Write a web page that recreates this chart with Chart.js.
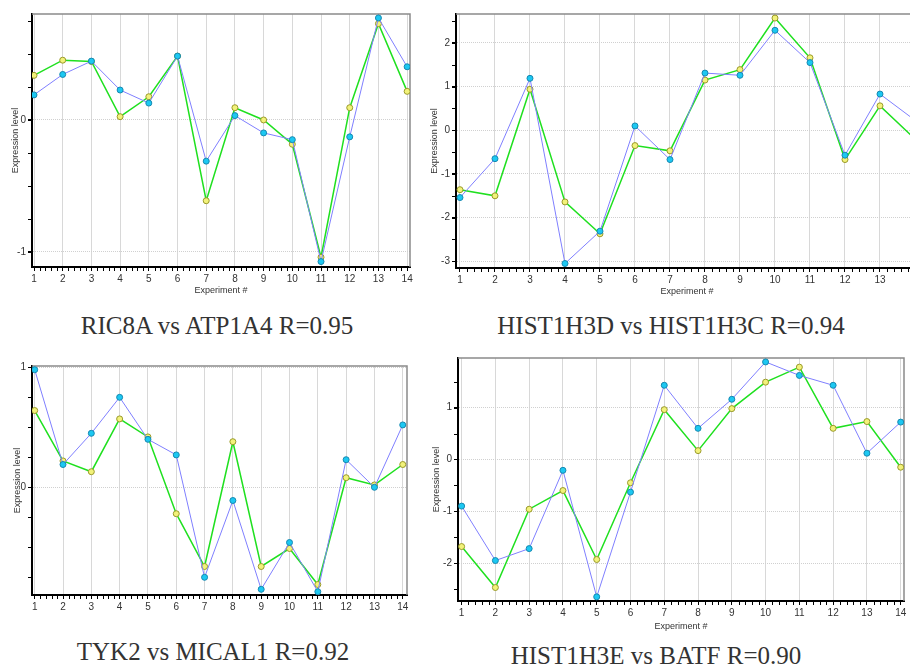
<!DOCTYPE html>
<html>
<head>
<meta charset="utf-8">
<script src="https://cdn.jsdelivr.net/npm/chart.js@4/dist/chart.umd.min.js"></script>
<style>
  html, body { margin: 0; padding: 0; overflow: hidden; background: #fff; }
  body { width: 910px; height: 668px; position: relative; }
  .wrap { position: absolute; overflow: hidden; }
  .caption {
    position: absolute; transform: translate(-50%, -50%); white-space: nowrap;
    font-family: "Liberation Serif", "DejaVu Serif", serif; font-size: 25px; color: #333;
  }
</style>
</head>
<body>
<div class="wrap" style="left:0;top:0;width:420px;height:300px"><canvas id="c1" width="420" height="300"></canvas></div>
<div class="wrap" style="left:420px;top:0;width:490px;height:300px"><canvas id="c2" width="510" height="300"></canvas></div>
<div class="wrap" style="left:0;top:350px;width:420px;height:269px"><canvas id="c3" width="420" height="290"></canvas></div>
<div class="wrap" style="left:420px;top:350px;width:490px;height:290px"><canvas id="c4" width="490" height="290"></canvas></div>

<div class="caption" style="left:217px;top:326px">RIC8A vs ATP1A4 R=0.95</div>
<div class="caption" style="left:671px;top:326px">HIST1H3D vs HIST1H3C R=0.94</div>
<div class="caption" style="left:213px;top:652px">TYK2 vs MICAL1 R=0.92</div>
<div class="caption" style="left:656px;top:656px">HIST1H3E vs BATF R=0.90</div>

<script>
// --- Dados ---
const experiments = [1, 2, 3, 4, 5, 6, 7, 8, 9, 10, 11, 12, 13, 14];

const ric8a  = [0.19, 0.345, 0.446, 0.227, 0.128, 0.484, -0.312, 0.033, -0.098, -0.149, -1.073, -0.128, 0.773, 0.403];
const atp1a4 = [0.338, 0.453, 0.443, 0.025, 0.176, 0.484, -0.612, 0.093, 0.0, -0.184, -1.04, 0.093, 0.73, 0.217];
const yTicks1 = [-1, 0];

const hist1h3d = [-1.54, -0.65, 1.19, -3.05, -2.31, 0.10, -0.67, 1.31, 1.26, 2.29, 1.55, -0.57, 0.83, 0.23];
const hist1h3c = [-1.36, -1.50, 0.94, -1.64, -2.37, -0.35, -0.47, 1.15, 1.39, 2.57, 1.66, -0.67, 0.56, -0.20];
const yTicks2 = [-3, -2, -1, 0, 1, 2];

const tyk2   = [0.98, 0.19, 0.45, 0.75, 0.40, 0.27, -0.75, -0.11, -0.85, -0.46, -0.87, 0.23, 0.0, 0.52];
const mical1 = [0.64, 0.22, 0.13, 0.57, 0.42, -0.22, -0.66, 0.38, -0.66, -0.51, -0.81, 0.08, 0.02, 0.19];
const yTicks3 = [0, 1];

const hist1h3e = [-0.90, -1.95, -1.72, -0.21, -2.65, -0.63, 1.43, 0.60, 1.16, 1.88, 1.62, 1.43, 0.12, 0.72];
const batf     = [-1.68, -2.47, -0.96, -0.60, -1.93, -0.45, 0.96, 0.17, 0.98, 1.49, 1.78, 0.60, 0.73, -0.15];
const yTicks4 = [-2, -1, 0, 1];

// --- Estilo ---
const FONT = 'Liberation Sans, Arial, sans-serif';
const toPoints = vals => experiments.map((e, i) => ({ x: e, y: vals[i] }));

// Borda cinza (topo/direita) e marcas menores nos eixos
const framePlugin = {
    id: 'frame',
    beforeDatasetsDraw(chart) {
        const { ctx, chartArea: a } = chart;
        ctx.save();
        ctx.strokeStyle = '#8a8a8a';
        ctx.lineWidth = 1.5;
        ctx.beginPath();
        ctx.moveTo(a.left, a.top);
        ctx.lineTo(a.right, a.top);
        ctx.lineTo(a.right, a.bottom);
        ctx.stroke();
        ctx.restore();
    },
    afterDraw(chart, args, opts) {
        const { ctx, chartArea: a, scales: { x, y } } = chart;
        ctx.save();
        ctx.strokeStyle = '#000';
        ctx.lineWidth = 1;
        ctx.beginPath();
        for (let i = Math.floor(x.min); i <= x.max; i++) {
            for (let k = 1; k < 5; k++) {
                const v = i + k / 5;
                if (v < x.min || v > x.max) continue;
                const px = Math.round(x.getPixelForValue(v)) + 0.5;
                ctx.moveTo(px, a.bottom);
                ctx.lineTo(px, a.bottom + 4);
            }
        }
        const step = opts.yStep;
        for (let v = Math.ceil(y.min / step) * step; v <= y.max; v += step) {
            const py = Math.round(y.getPixelForValue(v)) + 0.5;
            ctx.moveTo(a.left - 4, py);
            ctx.lineTo(a.left, py);
        }
        ctx.stroke();
        ctx.restore();
    }
};

function createPanel(cfg) {
    const ctx = document.getElementById(cfg.canvasId).getContext('2d');
    return new Chart(ctx, {
        type: 'line',
        data: {
            datasets: [
                {
                    data: toPoints(cfg.blue),
                    borderColor: '#7f7fff',
                    borderWidth: 1,
                    pointBackgroundColor: '#1cc8f2',
                    pointBorderColor: '#1688b0',
                    pointBorderWidth: 1,
                    pointRadius: 3,
                    tension: 0
                },
                {
                    data: toPoints(cfg.green),
                    borderColor: '#1fe01f',
                    borderWidth: 1.5,
                    pointBackgroundColor: '#f2f27a',
                    pointBorderColor: '#9a9a2a',
                    pointBorderWidth: 1,
                    pointRadius: 3,
                    tension: 0
                }
            ]
        },
        options: {
            responsive: false,
            animation: false,
            devicePixelRatio: 1,
            layout: {
                autoPadding: false,
                padding: { top: cfg.padTop, right: cfg.padRight, left: 0, bottom: 0 }
            },
            plugins: {
                legend: { display: false },
                tooltip: { enabled: false },
                frame: { yStep: cfg.yStep }
            },
            scales: {
                x: {
                    type: 'linear',
                    min: cfg.xMin,
                    max: cfg.xMax,
                    afterBuildTicks: s => { s.ticks = experiments.map(v => ({ value: v })); },
                    afterFit: s => { s.height = cfg.xAxisH; },
                    ticks: {
                        autoSkip: false, maxRotation: 0, padding: 2, color: '#333',
                        font: { family: FONT, size: 10 },
                        callback: v => String(v)
                    },
                    grid: { color: '#d8d8d8', lineWidth: 1, tickLength: 4, tickColor: '#000' },
                    border: { color: '#000', width: 2 },
                    title: {
                        display: true, text: 'Experiment #', color: '#333',
                        font: { family: FONT, size: 9 },
                        padding: { top: 0, bottom: cfg.xTitlePad }
                    }
                },
                y: {
                    min: cfg.yMin,
                    max: cfg.yMax,
                    afterBuildTicks: s => { s.ticks = cfg.yTicks.map(v => ({ value: v })); },
                    afterFit: s => { s.width = cfg.yAxisW; },
                    ticks: {
                        padding: 2, color: '#333',
                        font: { family: FONT, size: 10 },
                        callback: v => String(v)
                    },
                    grid: { color: '#d0d0d0', lineWidth: 1, tickLength: 4, tickColor: '#000' },
                    border: { color: '#000', width: 2, dash: [1, 1] },
                    title: {
                        display: true, text: 'Expression level', color: '#333',
                        font: { family: FONT, size: 9 },
                        padding: { top: cfg.yTitlePad, bottom: 0 }
                    }
                }
            }
        },
        plugins: [framePlugin]
    });
}

createPanel({
    canvasId: 'c1', blue: ric8a, green: atp1a4, yTicks: yTicks1, yStep: 0.25,
    xMin: 0.93, xMax: 14.10, yMin: -1.114, yMax: 0.803,
    padTop: 14, padRight: 10, yAxisW: 32, xAxisH: 33, xTitlePad: 4, yTitlePad: 10
});
createPanel({
    canvasId: 'c2', blue: hist1h3d, green: hist1h3c, yTicks: yTicks2, yStep: 0.5,
    xMin: 0.886, xMax: 14.086, yMin: -3.153, yMax: 2.663,
    padTop: 14, padRight: 12, yAxisW: 36, xAxisH: 32, xTitlePad: 3, yTitlePad: 9
});
createPanel({
    canvasId: 'c3', blue: tyk2, green: mical1, yTicks: yTicks3, yStep: 0.25,
    xMin: 0.905, xMax: 14.15, yMin: -0.8975, yMax: 1.011,
    padTop: 16, padRight: 13, yAxisW: 32, xAxisH: 45, xTitlePad: 11, yTitlePad: 12
});
createPanel({
    canvasId: 'c4', blue: hist1h3e, green: batf, yTicks: yTicks4, yStep: 0.5,
    xMin: 0.893, xMax: 14.098, yMin: -2.73, yMax: 1.956,
    padTop: 7, padRight: 6, yAxisW: 38, xAxisH: 39, xTitlePad: 8, yTitlePad: 11
});
</script>
</body>
</html>
